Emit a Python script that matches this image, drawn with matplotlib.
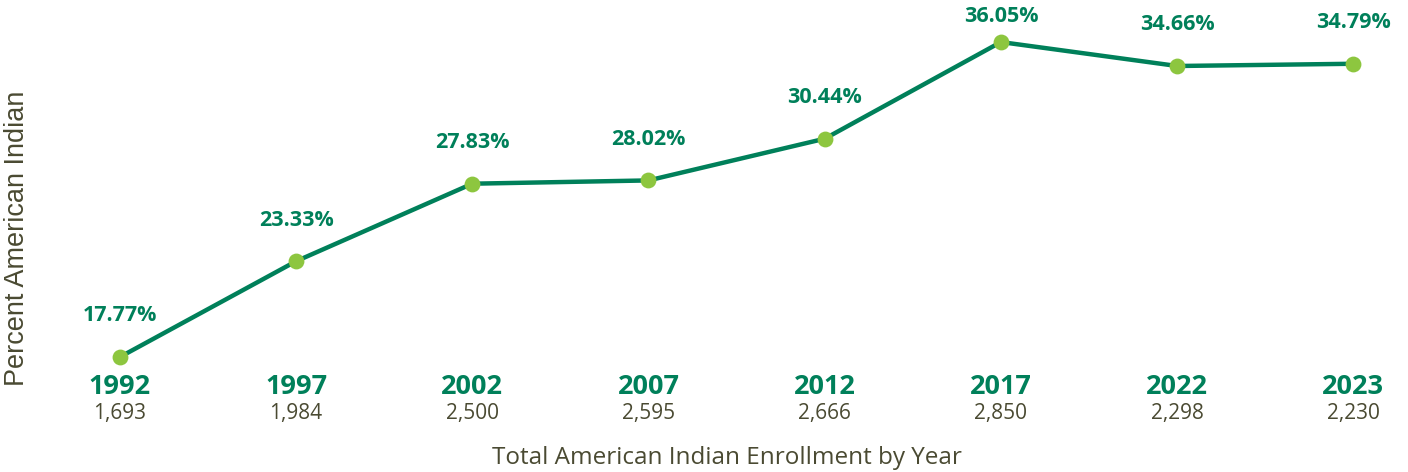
import matplotlib
matplotlib.use("Agg")
import matplotlib.pyplot as plt
from matplotlib.transforms import blended_transform_factory

years = ["1992", "1997", "2002", "2007", "2012", "2017", "2022", "2023"]
percent = [17.77, 23.33, 27.83, 28.02, 30.44, 36.05, 34.66, 34.79]
enrollment = ["1,693", "1,984", "2,500", "2,595", "2,666", "2,850", "2,298", "2,230"]

line_color = "#00805a"
dot_color = "#8dc63f"
text_dark = "#4a4a32"
font = "Open Sans"

fig = plt.figure(figsize=(14.08, 4.72), dpi=100)
ax = fig.add_axes([0, 0, 1, 1])
ax.set_xlim(-0.68, 7.31)
ax.set_ylim(11.10, 38.49)
ax.axis("off")
x = list(range(len(years)))
trans = blended_transform_factory(ax.transData, ax.transAxes)

ax.plot(x, percent, color=line_color, lw=3.2, zorder=2)
ax.scatter(x, percent, s=130, color=dot_color, zorder=3, linewidths=0)

# value labels above the points, kept inside the top edge
for xi, p in zip(x, percent):
    yf = ax.transLimits.transform((xi, p))[1]
    ax.text(xi, min(yf + 0.087, 0.966), f"{p:.2f}%", transform=trans,
            ha="center", va="center", fontsize=15.5, fontweight="bold",
            color=line_color, family=font)

# year / enrollment labels under the plot
for xi, yr, en in zip(x, years, enrollment):
    ax.text(xi, 0.180, yr, transform=trans, ha="center", va="center",
            fontsize=19.5, fontweight="bold", color=line_color, family=font)
    ax.text(xi, 0.125, en, transform=trans, ha="center", va="center",
            fontsize=15, color=text_dark, family=font)

ax.text(0.516, 0.030, "Total American Indian Enrollment by Year",
        transform=ax.transAxes, ha="center", va="center", fontsize=17.5,
        color=text_dark, family=font)
ax.text(0.012, 0.496, "Percent American Indian", transform=ax.transAxes,
        rotation=90, ha="center", va="center", fontsize=19.5,
        color=text_dark, family="Liberation Sans")

fig.savefig("out.png", dpi=100, facecolor="white")
